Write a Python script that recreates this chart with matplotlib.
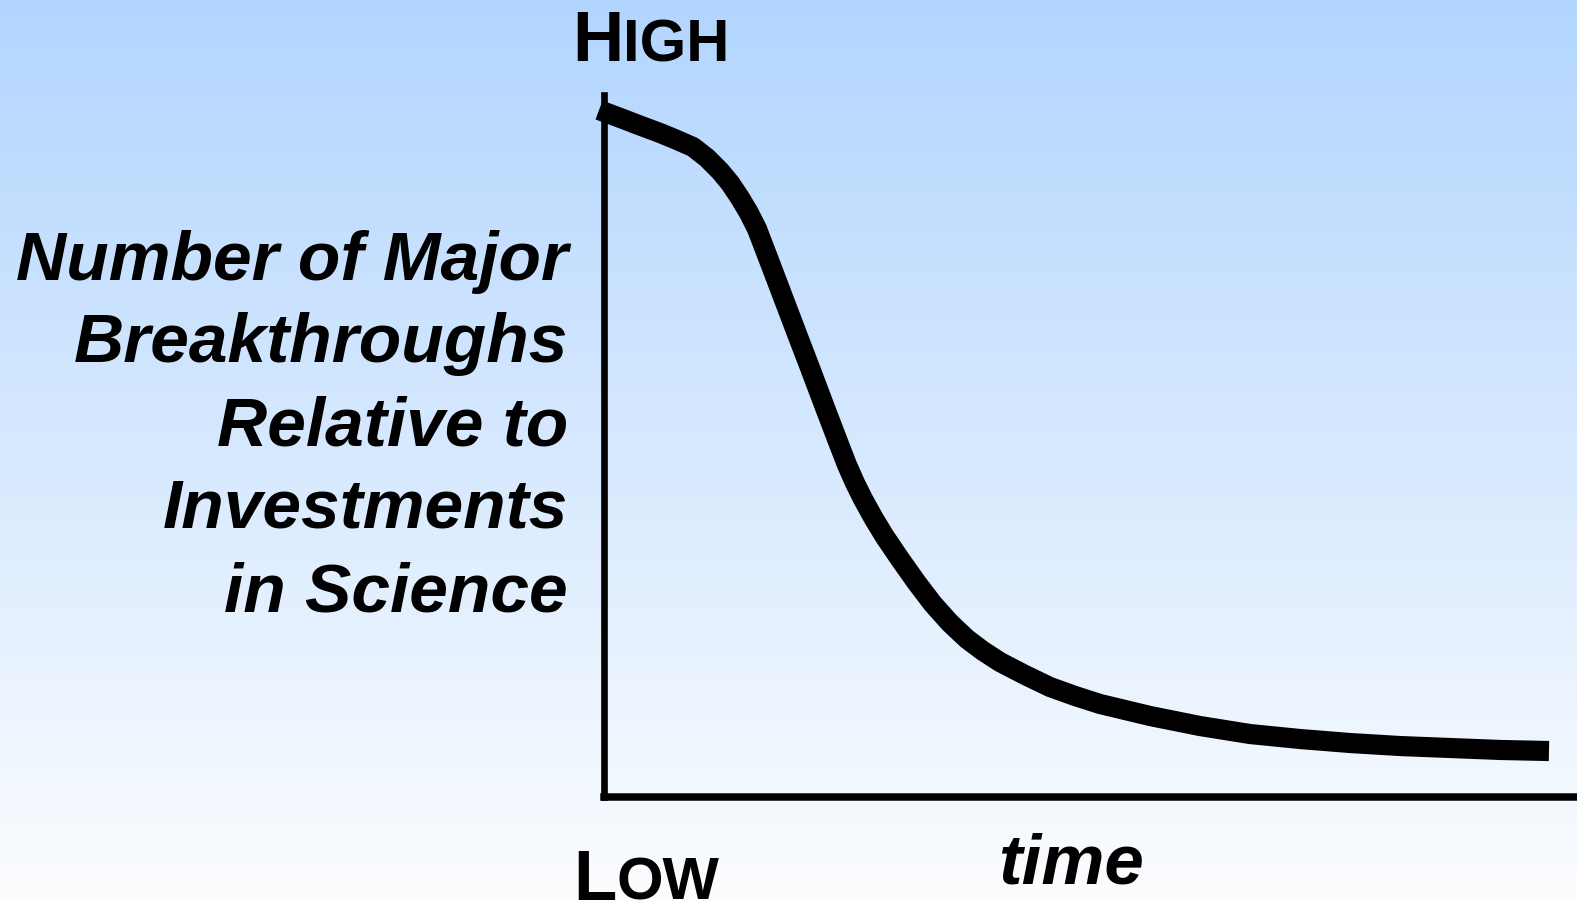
import numpy as np
import matplotlib
matplotlib.use("Agg")
import matplotlib.pyplot as plt
from matplotlib.colors import LinearSegmentedColormap

# ---- data ----
time = [-0.0051, 0.0196, 0.0371, 0.0577, 0.0752, 0.0917, 0.1061, 0.1195, 0.1298, 0.1401,
        0.1493, 0.1576, 0.1710, 0.1843, 0.1988, 0.2122, 0.2297, 0.2431, 0.2503, 0.2585,
        0.2667, 0.2781, 0.2894, 0.3048, 0.3223, 0.3388, 0.3563, 0.3738, 0.3903, 0.4078,
        0.4336, 0.4593, 0.4851, 0.5108, 0.5623, 0.6138, 0.6653, 0.7168, 0.7683, 0.8198,
        0.8713, 0.9228, 0.9732]
breakthroughs = [0.9786, 0.9658, 0.9565, 0.9459, 0.9359, 0.9259, 0.9103, 0.8917, 0.8746, 0.8533,
                 0.8319, 0.8091, 0.7607, 0.7123, 0.6595, 0.6111, 0.5470, 0.4986, 0.4729, 0.4473,
                 0.4245, 0.3960, 0.3704, 0.3390, 0.3048, 0.2749, 0.2479, 0.2251, 0.2080, 0.1923,
                 0.1738, 0.1567, 0.1439, 0.1325, 0.1154, 0.1011, 0.0897, 0.0826, 0.0769, 0.0726,
                 0.0698, 0.0670, 0.0655]
ylabel_lines = ["Number of Major", "Breakthroughs", "Relative to", "Investments", "in Science"]
high_label = ("H", "IGH")
low_label = ("L", "OW")
xlabel = "time"

W, H = 1577, 903
fig = plt.figure(figsize=(W / 100, H / 100), dpi=100)

# background gradient
bg = fig.add_axes([0, 0, 1, 1], zorder=-10)
cmap = LinearSegmentedColormap.from_list("bg", ["#b2d5fe", "#fcfdff"])
grad = np.linspace(0, 1, 256).reshape(-1, 1)
bg.imshow(grad, aspect="auto", cmap=cmap, extent=[0, 1, 0, 1], origin="upper")
bg.set_axis_off()

# main axes
L, R, B, T = 604, 1575, 798, 96
ax = fig.add_axes([L / W, 1 - B / H, (R - L) / W, (B - T) / H])
ax.set_facecolor("none")
ax.set_xlim(0, 1)
ax.set_ylim(0, 1)
for s in ["top", "right"]:
    ax.spines[s].set_visible(False)
ax.spines["left"].set_linewidth(4.8)
ax.spines["bottom"].set_linewidth(5.4)
for s in ["left", "bottom"]:
    ax.spines[s].set_color("black")
ax.set_xticks([])
ax.set_yticks([])

ax.plot(time, breakthroughs, color="black", lw=14.5, solid_capstyle="butt",
        solid_joinstyle="round", clip_on=False)

FONT = "Liberation Sans"

def px(x, y):
    return x / W, 1 - y / H

# y label (right aligned)
baselines = [280, 362, 445, 528, 611]
for line, yb in zip(ylabel_lines, baselines):
    fig.text(*px(568, yb), line, ha="right", va="baseline", fontsize=50,
             fontweight="bold", fontstyle="italic", family=FONT)

renderer = fig.canvas.get_renderer()

def smallcaps(big, small, x, yb, big_size, small_size):
    t1 = fig.text(*px(x, yb), big, ha="left", va="baseline", fontsize=big_size,
                  fontweight="bold", family=FONT)
    ext = t1.get_window_extent(renderer)
    x2 = ext.x1 / W
    fig.text(x2, 1 - yb / H, small, ha="left", va="baseline", fontsize=small_size,
             fontweight="bold", family=FONT)

smallcaps(high_label[0], high_label[1], 572, 61, 51, 43)
smallcaps(low_label[0], low_label[1], 573, 900, 51, 43)

fig.text(*px(998, 884), xlabel, ha="left", va="baseline", fontsize=51,
         fontweight="bold", fontstyle="italic", family=FONT)

fig.savefig("out.png", dpi=100)
